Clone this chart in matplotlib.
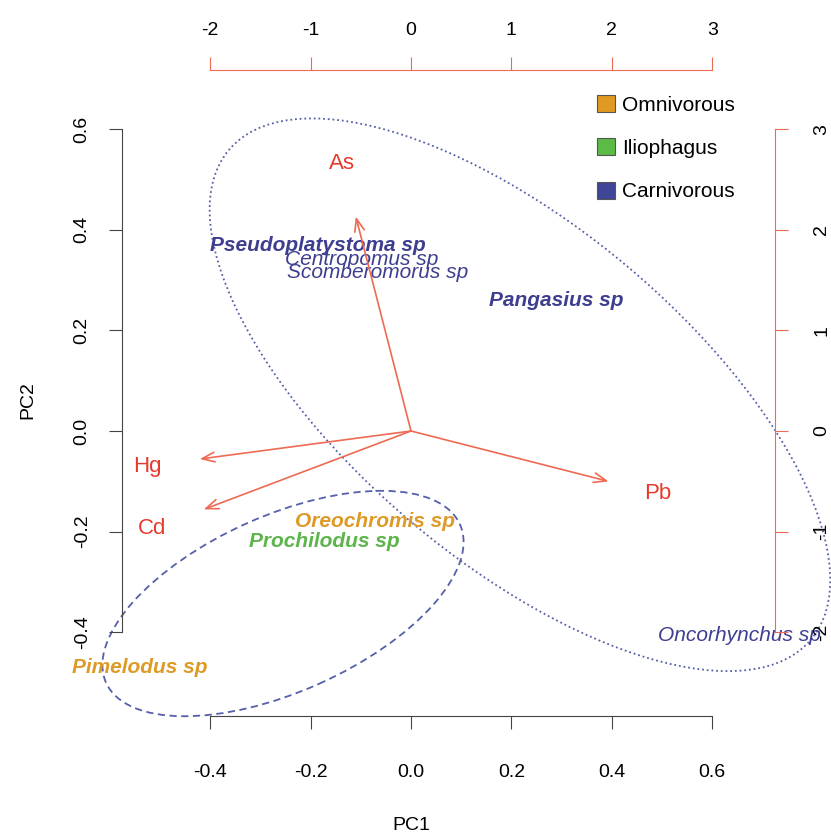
import numpy as np
import matplotlib
matplotlib.use("Agg")
import matplotlib.pyplot as plt
from matplotlib.patches import Ellipse, Patch

plt.rcParams["font.family"] = ["Liberation Sans", "DejaVu Sans"]
plt.rcParams["axes.unicode_minus"] = False

# species scores (PC1, PC2)
species = ["Pseudoplatystoma sp", "Centropomus sp", "Scomberomorus sp", "Pangasius sp",
           "Oreochromis sp", "Prochilodus sp", "Pimelodus sp", "Oncorhynchus sp"]
pc1 = [-0.185, -0.098, -0.066, 0.289, -0.072, -0.173, -0.540, 0.655]
pc2 = [0.368, 0.340, 0.316, 0.260, -0.179, -0.219, -0.471, -0.406]
diet = ["Carnivorous", "Carnivorous", "Carnivorous", "Carnivorous",
        "Omnivorous", "Iliophagus", "Omnivorous", "Carnivorous"]
bold = [True, False, False, True, True, True, True, False]

# metal loadings (top / right scale)
metals = ["As", "Hg", "Cd", "Pb"]
load1 = [-0.687, -2.629, -2.580, 2.460]
load2 = [2.664, -0.348, -0.974, -0.626]

diet_names = ["Omnivorous", "Iliophagus", "Carnivorous"]
diet_fill = ["#E09A22", "#5CBA46", "#3F4597"]
diet_text = {"Omnivorous": "#DE9A26", "Iliophagus": "#5BB54A", "Carnivorous": "#3E3E90"}

# group ellipses: center x, center y, width, height, angle
ell_big = (0.217, 0.072, 1.514, 0.666, -40)
ell_small = (-0.255, -0.343, 0.772, 0.350, 24)

W, H = 831, 836
fig = plt.figure(figsize=(W / 100, H / 100), dpi=100)
pos = [122 / W, 120 / H, 653 / W, 646 / H]
ax = fig.add_axes(pos)
ax.set_xlim(-0.5757, 0.7251)
ax.set_ylim(-0.5666, 0.7177)

axc = "#444444"
red = "#EE6A52"

for s in ["top", "right"]:
    ax.spines[s].set_visible(False)
for s in ["left", "bottom"]:
    ax.spines[s].set_color(axc)
    ax.spines[s].set_bounds(-0.4, 0.6)
ticks = [-0.4, -0.2, 0.0, 0.2, 0.4, 0.6]
ax.set_xticks(ticks)
ax.set_yticks(ticks)
ax.set_xticklabels(["%.1f" % t for t in ticks])
ax.set_yticklabels(["%.1f" % t for t in ticks], rotation=90, va="center")
ax.tick_params(axis="x", length=9.5, color=axc, labelsize=14, pad=25)
ax.tick_params(axis="y", length=9.5, color=axc, labelsize=14, pad=13)

# ellipses
cx, cy, ew, eh, ang = ell_big
ax.add_patch(Ellipse((cx, cy), ew, eh, angle=ang, fill=False, ec="#5560A8",
                     lw=1.3, ls=(0, (1, 1.6)), clip_on=False))
cx, cy, ew, eh, ang = ell_small
ax.add_patch(Ellipse((cx, cy), ew, eh, angle=ang, fill=False, ec="#5560A8",
                     lw=1.3, ls=(0, (4, 2.5)), clip_on=False))

for name, x, y, d, b in zip(species, pc1, pc2, diet, bold):
    ax.text(x, y, name, color=diet_text[d], fontsize=15, style="italic",
            fontweight="bold" if b else "normal", ha="center", va="center")

# loadings axes
ax2 = fig.add_axes(pos, facecolor="none")
ax2.set_xlim(-0.5757 * 5, 0.7251 * 5)
ax2.set_ylim(-0.5666 * 5, 0.7177 * 5)
ax2.xaxis.tick_top()
ax2.yaxis.tick_right()
for s in ["left", "bottom"]:
    ax2.spines[s].set_visible(False)
for s in ["top", "right"]:
    ax2.spines[s].set_color(red)
    ax2.spines[s].set_bounds(-2, 3)
t2 = [-2, -1, 0, 1, 2, 3]
ax2.set_xticks(t2)
ax2.set_yticks(t2)
ax2.set_yticklabels([str(t) for t in t2], rotation=90, va="center")
ax2.tick_params(axis="x", length=9.5, color=red, labelsize=14, pad=13)
ax2.tick_params(axis="y", length=9.5, color=red, labelsize=14, pad=18)

for name, x, y in zip(metals, load1, load2):
    ax2.annotate("", xy=(0.8 * x, 0.8 * y), xytext=(0, 0),
                 arrowprops=dict(arrowstyle="->,head_length=0.9,head_width=0.35",
                                 color=red, lw=1.2, shrinkA=0, shrinkB=0))
    ax2.text(x, y, name, color="#E63A2C", fontsize=16, ha="center", va="center")

handles = [Patch(facecolor=c, edgecolor="#555555", lw=0.8) for c in diet_fill]
ax2.legend(handles, diet_names, loc="upper left", bbox_to_anchor=(597 / W, 1 - 95 / H),
           bbox_transform=fig.transFigure, frameon=False, fontsize=15,
           handlelength=0.85, handleheight=0.85, handletextpad=0.35,
           labelspacing=1.15, borderpad=0, borderaxespad=0)

fig.text(411 / W, 1 - 826 / H, "PC1", fontsize=14, ha="center", va="center")
fig.text(28 / W, 1 - 400 / H, "PC2", fontsize=14, ha="center", va="center", rotation=90)

fig.savefig("out.png", dpi=100)
